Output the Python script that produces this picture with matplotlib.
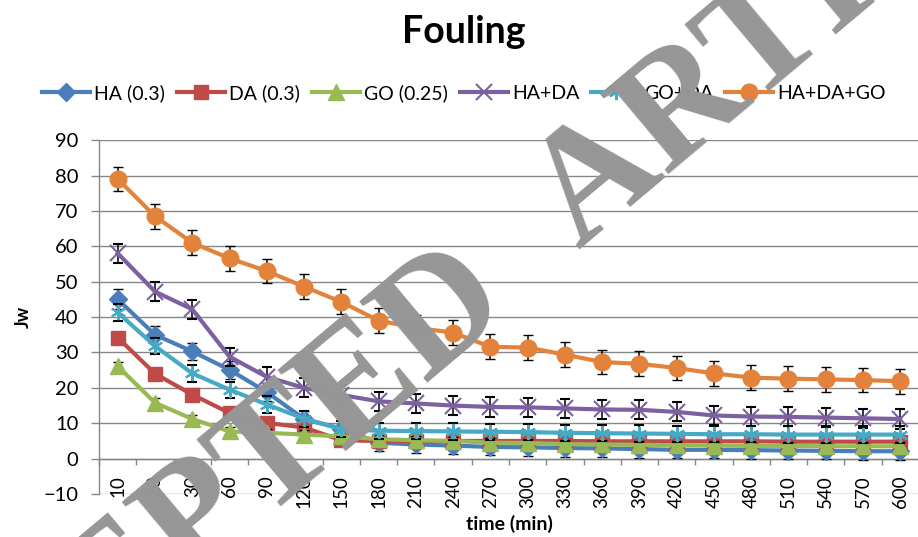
import matplotlib
matplotlib.use("Agg")
import matplotlib.pyplot as plt
import numpy as np

plt.rcParams['font.family'] = ['Lato', 'DejaVu Sans']

# --------------------------------------------------
# 	data
# --------------------------------------------------
time_min = ["10", "20", "30", "60", "90", "120", "150", "180", "210", "240", "270",
            "300", "330", "360", "390", "420", "450", "480", "510", "540", "570", "600"]

ha = [45.0, 35.0, 30.3, 25.1, 18.8, 11.2, 8.5, 4.5, 4.0, 3.7, 3.3,
      3.2, 3.0, 2.9, 2.7, 2.5, 2.5, 2.4, 2.3, 2.2, 2.1, 2.1]
da = [34.2, 24.0, 18.1, 12.9, 10.1, 8.8, 5.2, 5.0, 5.0, 5.0, 5.0,
      5.0, 5.0, 4.9, 4.9, 4.9, 4.9, 4.9, 4.8, 4.8, 4.8, 4.8]
go = [26.1, 15.8, 11.2, 7.7, 7.3, 6.8, 6.3, 5.5, 5.2, 5.0, 4.5,
      4.4, 4.1, 4.0, 3.9, 3.8, 3.7, 3.6, 3.6, 3.5, 3.5, 3.5]
ha_da = [58.0, 47.2, 42.2, 28.8, 23.1, 20.0, 18.0, 16.2, 15.6, 15.0, 14.6,
         14.5, 14.2, 13.9, 13.8, 13.2, 12.2, 11.9, 11.8, 11.6, 11.4, 11.2]
go_da = [41.3, 31.8, 24.1, 19.5, 15.3, 11.3, 8.3, 7.9, 7.8, 7.7, 7.6,
         7.5, 7.3, 7.2, 7.1, 7.0, 6.9, 6.9, 6.8, 6.8, 6.8, 6.8]
ha_da_go = [79.0, 68.5, 61.0, 56.6, 53.0, 48.6, 44.3, 39.0, 37.0, 35.6, 31.6,
            31.4, 29.4, 27.3, 26.8, 25.6, 24.1, 22.9, 22.6, 22.4, 22.2, 21.9]

# error bars
err_ha = [2.8, 2.5, 2.5, 2.5, 2.5, 2.3, 2.3, 2.4, 2.4, 2.4, 2.4,
          2.4, 2.4, 2.4, 2.4, 2.4, 2.4, 2.4, 2.4, 2.4, 2.4, 2.4]
err_da = [1.5, 1.5, 1.5, 1.5, 1.5, 1.5, 1.5, 1.5, 1.5, 1.5, 1.5,
          1.5, 1.5, 1.5, 1.5, 1.5, 1.5, 1.5, 1.5, 1.5, 1.5, 1.5]
err_go = [1.2, 1.2, 1.2, 1.2, 1.2, 1.2, 1.2, 1.2, 1.2, 1.2, 1.2,
          1.2, 1.2, 1.2, 1.2, 1.2, 1.2, 1.2, 1.2, 1.2, 1.2, 1.2]
err_ha_da = [2.6, 2.6, 2.6, 2.6, 2.7, 2.7, 2.7, 2.7, 2.7, 2.7, 2.7,
             2.7, 2.7, 2.7, 2.7, 2.7, 2.7, 2.7, 2.7, 2.7, 2.7, 2.7]
err_go_da = [2.3, 2.3, 2.3, 2.3, 2.3, 2.3, 2.3, 2.3, 2.3, 2.3, 2.3,
             2.3, 2.3, 2.3, 2.3, 2.3, 2.3, 2.3, 2.3, 2.3, 2.3, 2.3]
err_ha_da_go = [3.5, 3.5, 3.5, 3.5, 3.5, 3.5, 3.5, 3.5, 3.5, 3.5, 3.5,
                3.5, 3.5, 3.5, 3.5, 3.5, 3.5, 3.5, 3.5, 3.5, 3.5, 3.5]

labels = ["HA (0.3)", "DA (0.3)", "GO (0.25)", "HA+DA", "GO+DA", "HA+DA+GO"]

# --------------------------------------------------
# 	figure
# --------------------------------------------------
fig = plt.figure(figsize=(9.18, 5.37), dpi=100)
ax = fig.add_axes([0.108, 0.080, 0.895, 0.659])

x = np.arange(len(time_min))

series = [
    (ha, err_ha, "#4A7EBB", "D", 9, 1),
    (da, err_da, "#BE4B48", "s", 10, 1),
    (go, err_go, "#98B954", "^", 11, 1),
    (ha_da, err_ha_da, "#7D60A0", "x", 11, 1.5),
    (go_da, err_go_da, "#46AAC5", (6, 2, 0), 11, 1.5),
    (ha_da_go, err_ha_da_go, "#E3823B", "o", 12, 1),
]

handles = []
for i, (y, e, c, m, ms, mew) in enumerate(series):
    cont = ax.errorbar(x, y, yerr=e, color=c, lw=3, marker=m, ms=ms, mew=mew,
                       mec=c, mfc=c, ecolor="black", elinewidth=1.1, capsize=3.5,
                       capthick=1.1, zorder=3 + i)
    handles.append(cont[0])

# --------------------------------------------------
# 	axes styling
# --------------------------------------------------
ax.set_xlim(-0.5, len(time_min) - 0.45)
ax.set_ylim(-10, 90)
ax.set_yticks(np.arange(-10, 91, 10))
ax.yaxis.grid(True, color="#878787", lw=1.0)
ax.set_axisbelow(True)

for s in ["top", "right"]:
    ax.spines[s].set_visible(False)
for s in ["left", "bottom"]:
    ax.spines[s].set_color("#878787")
    ax.spines[s].set_linewidth(1.0)
# category axis crosses at zero
ax.spines["bottom"].set_position(("data", 0))

ax.set_xticks(x)
ax.set_xticklabels(time_min, rotation=90, fontsize=13.5)
ax.set_xticks(np.arange(-0.5, len(time_min), 1.0), minor=True)
ax.tick_params(axis="x", which="major", length=0, pad=12)
ax.tick_params(axis="x", which="minor", length=4, color="#878787", width=1.0)
ax.tick_params(axis="y", length=6, color="#878787", width=1.0, pad=9, labelsize=14.5)

ax.set_ylabel("Jw", fontsize=13, fontweight="bold", labelpad=8)
fig.text(0.555, 0.024, "time (min)", ha="center", va="center",
         fontsize=14, fontweight="bold")

fig.text(0.505, 0.94, "Fouling", ha="center", va="center",
         fontsize=27, fontweight="bold")

fig.legend(handles, labels, loc="center", bbox_to_anchor=(0.505, 0.827), ncol=6,
           frameon=False, fontsize=14, handlelength=2.5, handletextpad=0.2,
           columnspacing=0.6, numpoints=1)

# watermark
wm = dict(rotation=40, rotation_mode="anchor", fontsize=115, fontweight="bold",
          family="Liberation Serif", color="#969696", zorder=10, va="baseline")
fig.text(0.560, 0.425, "ACCEPTED", ha="right", **wm)
fig.text(0.630, 0.535, "ARTICLE", ha="left", **wm)

plt.savefig("out.png", dpi=100)
